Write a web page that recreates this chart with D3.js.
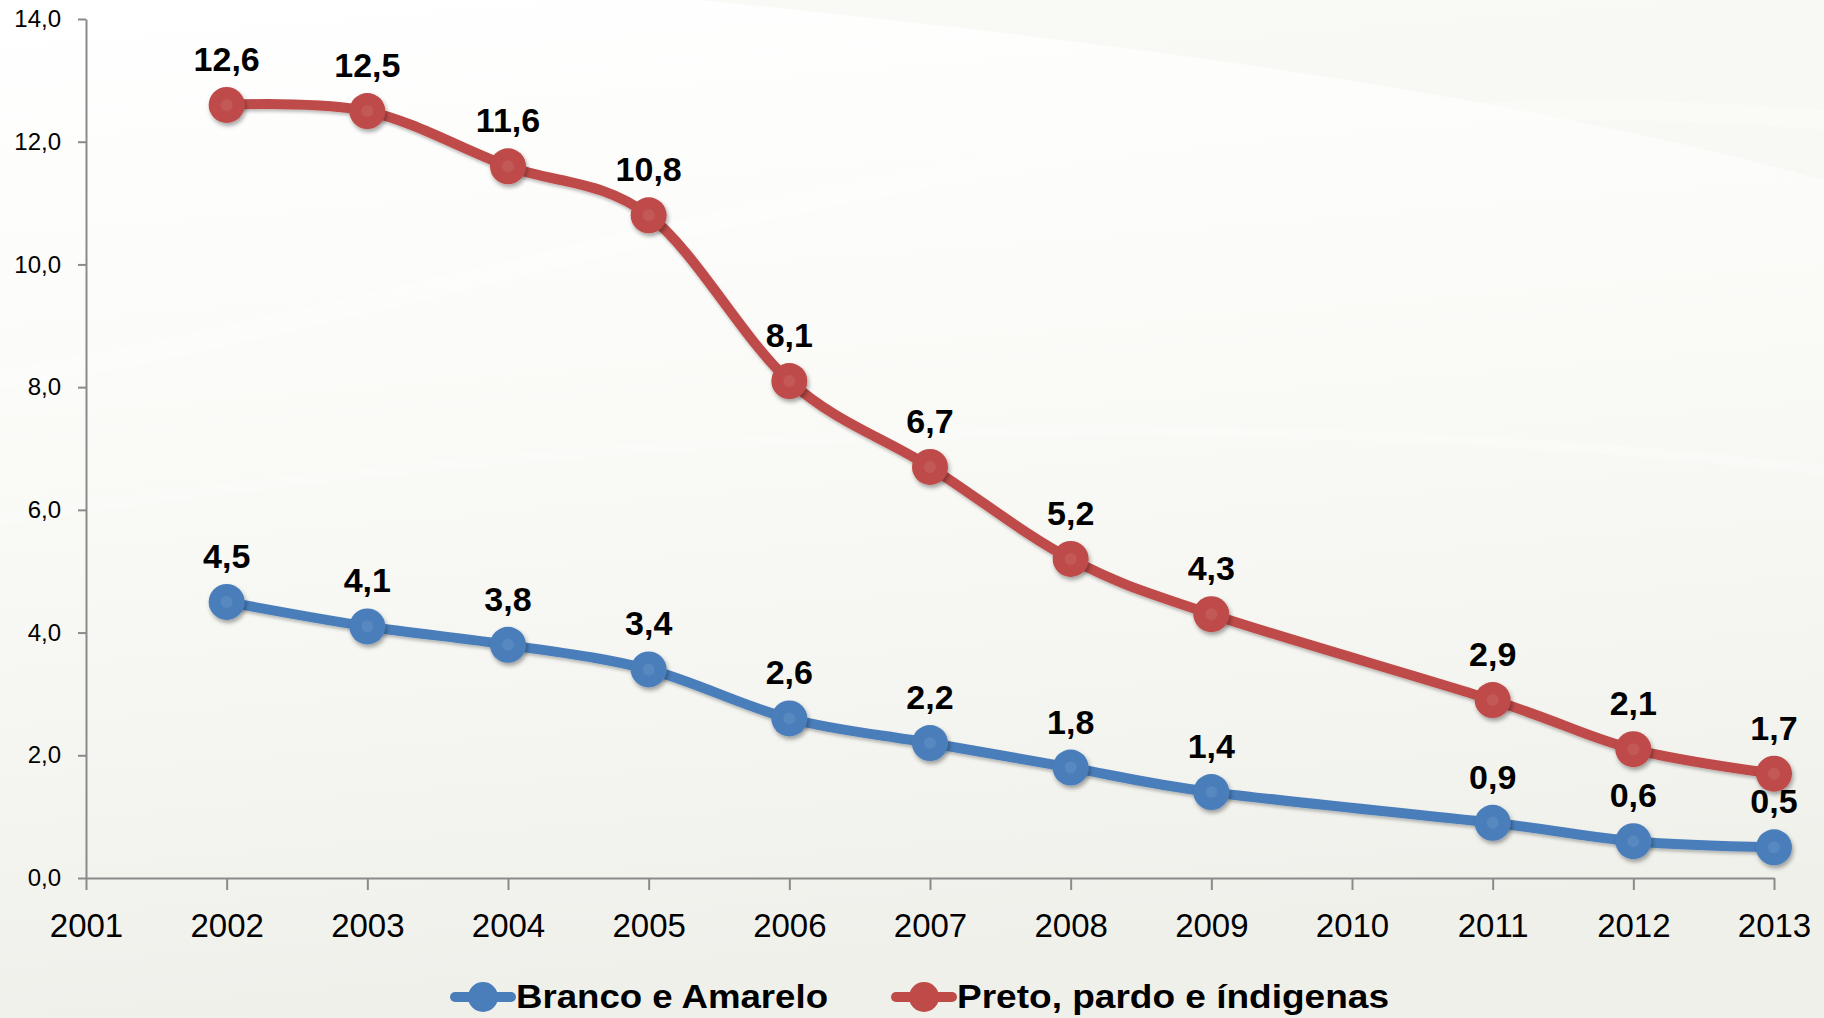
<!DOCTYPE html>
<html>
<head>
<meta charset="utf-8">
<script src="https://cdn.jsdelivr.net/npm/d3@7"></script>
<style>
  html, body { margin: 0; padding: 0; background: #ffffff; }
  svg { display: block; }
</style>
</head>
<body>
<svg id="chart" width="1824" height="1018"></svg>
<script>
const years = [2001, 2002, 2003, 2004, 2005, 2006, 2007, 2008, 2009, 2010, 2011, 2012, 2013];
const yTicks = [0, 2, 4, 6, 8, 10, 12, 14];
const seriesNames = ["Branco e Amarelo", "Preto, pardo e índigenas"];
const seriesColors = ["#4A7EBB", "#BE4B48"];
const brancoValues = [null, 4.5, 4.1, 3.8, 3.4, 2.6, 2.2, 1.8, 1.4, null, 0.9, 0.6, 0.5];
const pretoValues  = [null, 12.6, 12.5, 11.6, 10.8, 8.1, 6.7, 5.2, 4.3, null, 2.9, 2.1, 1.7];

const svg = d3.select("#chart");
const W = 1824, H = 1018;
const fmt = v => v.toFixed(1).replace(".", ",");

// background
const defs = svg.append("defs");
const bg = defs.append("linearGradient").attr("id", "bg").attr("x1", 0).attr("y1", 0).attr("x2", 0.15).attr("y2", 1);
bg.append("stop").attr("offset", "0%").attr("stop-color", "#ffffff");
bg.append("stop").attr("offset", "45%").attr("stop-color", "#fafaf7");
bg.append("stop").attr("offset", "100%").attr("stop-color", "#f0f0eb");
const f = defs.append("filter").attr("id", "shadow").attr("x", "-50%").attr("y", "-50%").attr("width", "200%").attr("height", "200%");
f.append("feDropShadow").attr("dx", 1.5).attr("dy", 3).attr("stdDeviation", 2).attr("flood-color", "#000").attr("flood-opacity", 0.35);
const lf = defs.append("filter").attr("id", "lshadow").attr("x", "-10%").attr("y", "-10%").attr("width", "120%").attr("height", "130%");
lf.append("feDropShadow").attr("dx", 1).attr("dy", 2.5).attr("stdDeviation", 1.8).attr("flood-color", "#000").attr("flood-opacity", 0.25);

svg.append("rect").attr("width", W).attr("height", H).attr("fill", "url(#bg)");
// faint swooshes
svg.append("path").attr("d", "M700,0 C1100,40 1500,90 1824,180 L1824,0 Z").attr("fill", "#f5f5f0").attr("opacity", 0.6);
const sw = svg.append("g").attr("fill", "none").attr("stroke", "#ffffff");
sw.append("path").attr("d", "M0,380 C500,300 1100,60 1824,120").attr("stroke-width", 20).attr("stroke-opacity", 0.25);
sw.append("path").attr("d", "M0,520 C600,430 1200,400 1824,470").attr("stroke-width", 10).attr("stroke-opacity", 0.25);

const x = d3.scaleLinear().domain([2001, 2013]).range([86, 1774]);
const y = d3.scaleLinear().domain([0, 14]).range([878, 19]);

// axes
const yAxis = svg.append("g").attr("transform", "translate(86,0)")
  .call(d3.axisLeft(y).tickValues(yTicks).tickFormat(fmt).tickSize(8).tickSizeOuter(0).tickPadding(17));
const xAxis = svg.append("g").attr("transform", "translate(0,878)")
  .call(d3.axisBottom(x).tickValues(years).tickFormat(d => String(d)).tickSize(12).tickSizeOuter(0).tickPadding(24));
[yAxis, xAxis].forEach(a => {
  a.selectAll("path, line").attr("stroke", "#8a8a8a").attr("stroke-width", 2);
  a.selectAll("text").attr("fill", "#000").attr("font-family", "'Liberation Sans', Arial, sans-serif");
});
yAxis.selectAll("text").attr("font-size", 24);
xAxis.selectAll("text").attr("font-size", 33);

const series = [brancoValues, pretoValues];
const line = d3.line().defined(d => d.v != null).x(d => x(d.year)).y(d => y(d.v)).curve(d3.curveCatmullRom.alpha(0));

series.forEach((vals, i) => {
  const pts = years.map((yr, j) => ({ year: yr, v: vals[j] })).filter(d => d.v != null);
  const g = svg.append("g");
  g.append("path").datum(pts).attr("d", line).attr("fill", "none")
    .attr("stroke", seriesColors[i]).attr("stroke-width", 10).attr("stroke-linejoin", "round")
    .attr("filter", "url(#lshadow)");
  g.selectAll("circle.m").data(pts).join("circle").attr("class", "m")
    .attr("cx", d => x(d.year)).attr("cy", d => y(d.v)).attr("r", 18)
    .attr("fill", seriesColors[i]).attr("filter", "url(#shadow)");
  g.selectAll("circle.h").data(pts).join("circle").attr("class", "h")
    .attr("cx", d => x(d.year)).attr("cy", d => y(d.v)).attr("r", 6)
    .attr("fill", "#ffffff").attr("opacity", 0.08);
  g.selectAll("text").data(pts).join("text")
    .attr("x", d => x(d.year)).attr("y", d => y(d.v) - 34)
    .attr("text-anchor", "middle").attr("font-family", "'Liberation Sans', Arial, sans-serif")
    .attr("font-weight", "bold").attr("font-size", 34).attr("fill", "#000")
    .text(d => fmt(d.v));
});

// legend
const legendX = [483, 924];
const legendTextW = [312, 432];
seriesNames.forEach((name, i) => {
  const g = svg.append("g").attr("transform", `translate(${legendX[i]},997)`);
  g.append("line").attr("x1", -28).attr("x2", 28).attr("y1", 0).attr("y2", 0)
    .attr("stroke", seriesColors[i]).attr("stroke-width", 10).attr("stroke-linecap", "round");
  g.append("circle").attr("r", 15).attr("fill", seriesColors[i]);
  g.append("text").attr("x", 33).attr("y", 11)
    .attr("font-family", "'Liberation Sans', Arial, sans-serif").attr("font-weight", "bold")
    .attr("font-size", 34).attr("fill", "#000")
    .attr("textLength", legendTextW[i]).attr("lengthAdjust", "spacingAndGlyphs")
    .text(name);
});
</script>
</body>
</html>
